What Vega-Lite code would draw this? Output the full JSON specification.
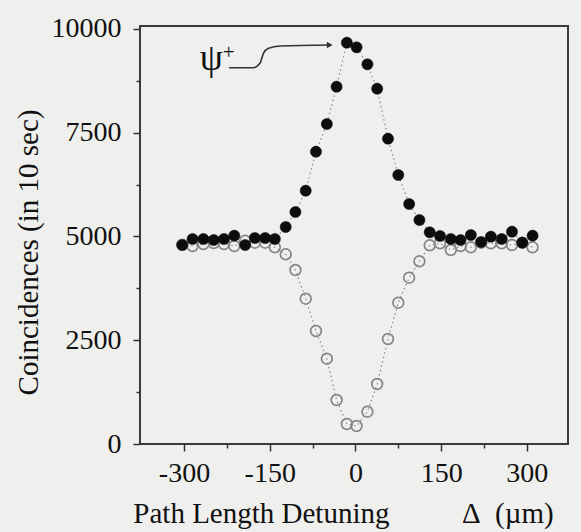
{
  "$schema": "https://vega.github.io/schema/vega-lite/v6.json",
  "width": 428,
  "height": 418,
  "autosize": "none",
  "padding": {"left": 140, "top": 26, "right": 13, "bottom": 88},
  "background": "#efefed",
  "config": {
    "view": {"stroke": "#3a3a3a", "strokeWidth": 2, "fill": "#efefed"},
    "axis": {
      "domain": false,
      "grid": false,
      "tickColor": "#333",
      "tickWidth": 1.5,
      "labelFont": "Liberation Serif",
      "labelFontSize": 28,
      "labelColor": "#111",
      "titleFont": "Liberation Serif",
      "titleFontSize": 29,
      "titleFontWeight": "normal",
      "titleColor": "#111"
    }
  },
  "datasets": {
    "points": [
      {"delta": -303, "coinc": 4795, "series": "filled"},
      {"delta": -285, "coinc": 4940, "series": "filled"},
      {"delta": -266, "coinc": 4940, "series": "filled"},
      {"delta": -248, "coinc": 4915, "series": "filled"},
      {"delta": -230, "coinc": 4940, "series": "filled"},
      {"delta": -212, "coinc": 5020, "series": "filled"},
      {"delta": -193, "coinc": 4795, "series": "filled"},
      {"delta": -176, "coinc": 4964, "series": "filled"},
      {"delta": -158, "coinc": 4964, "series": "filled"},
      {"delta": -141, "coinc": 4940, "series": "filled"},
      {"delta": -122, "coinc": 5229, "series": "filled"},
      {"delta": -105, "coinc": 5590, "series": "filled"},
      {"delta": -87, "coinc": 6104, "series": "filled"},
      {"delta": -69, "coinc": 7043, "series": "filled"},
      {"delta": -50, "coinc": 7711, "series": "filled"},
      {"delta": -33, "coinc": 8610, "series": "filled"},
      {"delta": -15, "coinc": 9670, "series": "filled"},
      {"delta": 2, "coinc": 9559, "series": "filled"},
      {"delta": 21, "coinc": 9149, "series": "filled"},
      {"delta": 38, "coinc": 8561, "series": "filled"},
      {"delta": 57, "coinc": 7357, "series": "filled"},
      {"delta": 75, "coinc": 6482, "series": "filled"},
      {"delta": 94, "coinc": 5783, "series": "filled"},
      {"delta": 112, "coinc": 5398, "series": "filled"},
      {"delta": 130, "coinc": 5101, "series": "filled"},
      {"delta": 148, "coinc": 5012, "series": "filled"},
      {"delta": 167, "coinc": 4940, "series": "filled"},
      {"delta": 184, "coinc": 4915, "series": "filled"},
      {"delta": 202, "coinc": 5036, "series": "filled"},
      {"delta": 220, "coinc": 4867, "series": "filled"},
      {"delta": 237, "coinc": 4995, "series": "filled"},
      {"delta": 256, "coinc": 4940, "series": "filled"},
      {"delta": 274, "coinc": 5116, "series": "filled"},
      {"delta": 292, "coinc": 4851, "series": "filled"},
      {"delta": 310, "coinc": 5020, "series": "filled"},
      {"delta": -303, "coinc": 4800, "series": "open"},
      {"delta": -285, "coinc": 4771, "series": "open"},
      {"delta": -266, "coinc": 4819, "series": "open"},
      {"delta": -248, "coinc": 4843, "series": "open"},
      {"delta": -230, "coinc": 4819, "series": "open"},
      {"delta": -212, "coinc": 4771, "series": "open"},
      {"delta": -193, "coinc": 4900, "series": "open"},
      {"delta": -176, "coinc": 4850, "series": "open"},
      {"delta": -158, "coinc": 4850, "series": "open"},
      {"delta": -141, "coinc": 4740, "series": "open"},
      {"delta": -122, "coinc": 4571, "series": "open"},
      {"delta": -105, "coinc": 4193, "series": "open"},
      {"delta": -87, "coinc": 3501, "series": "open"},
      {"delta": -69, "coinc": 2723, "series": "open"},
      {"delta": -50, "coinc": 2055, "series": "open"},
      {"delta": -33, "coinc": 1060, "series": "open"},
      {"delta": -15, "coinc": 482, "series": "open"},
      {"delta": 2, "coinc": 434, "series": "open"},
      {"delta": 21, "coinc": 778, "series": "open"},
      {"delta": 38, "coinc": 1446, "series": "open"},
      {"delta": 57, "coinc": 2530, "series": "open"},
      {"delta": 75, "coinc": 3405, "series": "open"},
      {"delta": 94, "coinc": 4007, "series": "open"},
      {"delta": 112, "coinc": 4402, "series": "open"},
      {"delta": 130, "coinc": 4788, "series": "open"},
      {"delta": 148, "coinc": 4836, "series": "open"},
      {"delta": 167, "coinc": 4675, "series": "open"},
      {"delta": 184, "coinc": 4771, "series": "open"},
      {"delta": 202, "coinc": 4740, "series": "open"},
      {"delta": 220, "coinc": 4850, "series": "open"},
      {"delta": 237, "coinc": 4836, "series": "open"},
      {"delta": 256, "coinc": 4836, "series": "open"},
      {"delta": 274, "coinc": 4795, "series": "open"},
      {"delta": 292, "coinc": 4850, "series": "open"},
      {"delta": 310, "coinc": 4740, "series": "open"}
    ],
    "arrow": [
      {"delta": -221, "coinc": 9067, "k": 1},
      {"delta": -179, "coinc": 9067, "k": 2},
      {"delta": -167, "coinc": 9173, "k": 3},
      {"delta": -161, "coinc": 9414, "k": 4},
      {"delta": -152, "coinc": 9535, "k": 5},
      {"delta": -132, "coinc": 9590, "k": 6},
      {"delta": -44, "coinc": 9614, "k": 7}
    ],
    "tip": [{"delta": -45, "coinc": 9614}],
    "psi": [{"delta": -252, "coinc": 9012, "t": "ψ"}],
    "plus": [{"delta": -222, "coinc": 9430, "t": "+"}]
  },
  "encoding": {
    "x": {
      "field": "delta",
      "type": "quantitative",
      "scale": {"domain": [-377, 372], "nice": false, "zero": false},
      "axis": {
        "values": [-300, -225, -150, -75, 0, 75, 150, 225, 300],
        "labelExpr": "datum.value % 150 === 0 ? replace(datum.label, '−', '-') : ''",
        "tickSize": {"condition": {"test": "datum.value % 150 === 0", "value": 7}, "value": 4},
        "labelPadding": 8,
        "title": "Path Length Detuning\u00a0\u00a0\u00a0\u00a0\u00a0\u00a0\u00a0\u00a0\u00a0\u00a0Δ\u00a0\u00a0(µm)",
        "titleX": 203,
        "titleY": 78,
        "titleBaseline": "alphabetic",
        "titleAlign": "center"
      }
    },
    "y": {
      "field": "coinc",
      "type": "quantitative",
      "scale": {"domain": [0, 10072], "nice": false},
      "axis": {
        "values": [0, 1250, 2500, 3750, 5000, 6250, 7500, 8750, 10000],
        "format": "d",
        "labelExpr": "datum.value % 2500 === 0 ? datum.label : ''",
        "tickSize": {"condition": {"test": "datum.value % 2500 === 0", "value": 7}, "value": 4},
        "labelPadding": 12,
        "title": "Coincidences (in 10 sec)",
        "titleX": -112,
        "titleY": 226,
        "titleAlign": "center",
        "titleBaseline": "middle",
        "titleAngle": -90
      }
    }
  },
  "layer": [
    {
      "data": {"name": "points"},
      "mark": {"type": "line", "color": "#8a8a8a", "strokeWidth": 1.2, "strokeDash": [1.5, 3]},
      "encoding": {"detail": {"field": "series"}}
    },
    {
      "data": {"name": "points"},
      "transform": [{"filter": "datum.series === 'open'"}],
      "mark": {"type": "point", "shape": "circle", "filled": false, "stroke": "#858585", "strokeWidth": 1.7, "size": 115, "opacity": 1}
    },
    {
      "data": {"name": "points"},
      "transform": [{"filter": "datum.series === 'filled'"}],
      "mark": {"type": "point", "shape": "circle", "filled": true, "fill": "#0d0d0d", "stroke": "#0d0d0d", "strokeWidth": 0.5, "size": 125, "opacity": 1}
    },
    {
      "data": {"name": "arrow"},
      "mark": {"type": "line", "color": "#333", "strokeWidth": 1.6, "interpolate": "monotone"},
      "encoding": {"order": {"field": "k", "type": "quantitative"}}
    },
    {
      "data": {"name": "tip"},
      "mark": {"type": "point", "shape": "triangle-right", "filled": true, "fill": "#333", "size": 45, "opacity": 1}
    },
    {
      "data": {"name": "psi"},
      "mark": {"type": "text", "font": "Liberation Serif", "fontSize": 37, "align": "center", "baseline": "alphabetic", "color": "#111"},
      "encoding": {"text": {"field": "t"}}
    },
    {
      "data": {"name": "plus"},
      "mark": {"type": "text", "font": "Liberation Serif", "fontSize": 21, "align": "center", "baseline": "middle", "color": "#111"},
      "encoding": {"text": {"field": "t"}}
    }
  ]
}
